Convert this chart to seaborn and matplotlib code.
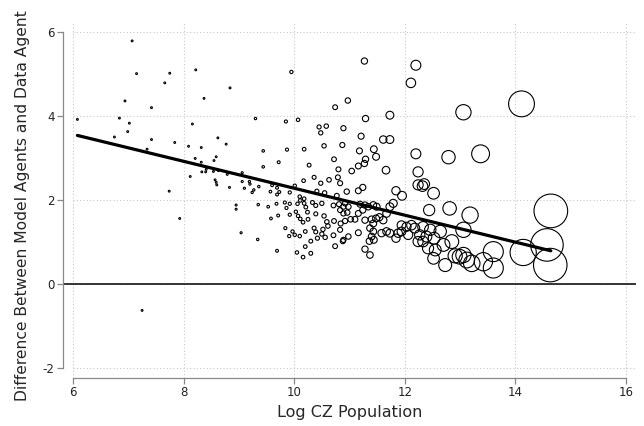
import numpy as np
import pandas as pd
import seaborn as sns
import matplotlib
matplotlib.use("Agg")
import matplotlib.pyplot as plt

# log CZ population (x) and difference between model and data agents (y)
log_pop = [
    6.08, 7.07, 7.15, 6.94, 7.42, 6.84, 7.02, 6.99, 6.75, 7.42, 7.34, 7.66, 7.75, 7.84, 7.74, 7.93, 7.25,
    8.22, 8.37, 8.16, 8.09, 8.32, 8.21, 8.32, 8.12, 8.33, 8.40, 8.41, 8.55, 8.59, 8.62, 8.77, 8.84, 8.54,
    8.63, 8.57, 8.59, 8.60, 8.79, 8.83, 8.95, 8.95, 9.04, 9.06, 9.06, 9.10, 9.19, 9.20, 9.27, 9.24, 9.36,
    9.35, 9.34, 9.30, 9.44, 9.44,
    9.95, 10.74, 9.85, 10.07, 10.45, 10.58, 10.48, 10.89, 9.87, 10.18, 10.54, 10.87, 10.72,
    9.72, 10.27, 10.36, 10.17, 10.48, 10.63, 10.79, 10.80, 9.60, 9.69, 9.73, 9.57, 9.69, 9.92, 10.01,
    10.10, 10.18, 10.41, 10.55, 10.77, 9.53, 9.68, 9.83, 9.92, 9.86, 10.06, 10.11, 10.18, 10.21, 10.33,
    10.39, 10.50, 10.71, 10.81, 10.89, 9.58, 9.71, 9.92, 10.03, 10.07, 10.11, 10.16, 10.24, 10.25, 10.39,
    10.54, 10.59, 10.72, 10.84, 10.52, 10.61, 10.50, 10.39, 10.20, 10.36, 9.84, 9.97, 9.91, 10.01, 10.10,
    10.30, 10.42, 10.56, 10.71, 10.88, 10.74, 10.20, 10.05, 10.30, 10.16, 9.69,
    11.27, 12.20, 12.11, 10.97, 11.73, 11.29, 11.21, 11.61, 11.73, 11.18, 11.44, 11.48, 11.29, 12.20,
    11.16, 11.04, 11.27, 11.66, 10.83, 10.95, 11.16, 11.24, 11.84, 11.95, 12.24, 12.24, 10.83, 10.92,
    10.98, 10.89, 10.96, 11.02, 10.92, 11.10, 11.16, 11.24, 11.28, 11.19, 11.34, 11.43, 11.49, 11.28,
    11.40, 11.48, 11.54, 11.61, 11.67, 11.73, 11.79, 11.43, 11.37, 11.43, 11.40, 11.36, 11.44, 11.58,
    11.67, 11.73, 11.84, 11.88, 11.94, 12.03, 12.12, 12.18, 11.94, 12.06, 12.24, 10.83, 10.89, 10.98,
    11.16, 11.28, 11.37,
    13.06, 12.79, 13.37,
    12.35, 12.32, 12.52, 12.44, 12.81, 13.18, 13.06, 12.33, 12.46, 12.64, 12.27, 12.39, 12.53, 12.85,
    12.33, 12.42, 12.55, 12.70, 12.52, 12.73, 12.91, 12.99, 13.06, 13.12, 13.21, 13.42, 13.60, 13.60,
    14.11, 14.64, 14.57, 14.63, 14.14,
]
agent_diff = [
    3.92, 5.79, 5.01, 4.36, 4.20, 3.95, 3.83, 3.63, 3.50, 3.44, 3.21, 4.79, 5.02, 3.37, 2.21, 1.56, -0.63,
    5.10, 4.42, 3.81, 3.28, 3.25, 2.99, 2.90, 2.56, 2.67, 2.67, 2.73, 2.94, 3.03, 3.48, 3.33, 4.67, 2.68,
    2.70, 2.48, 2.42, 2.36, 2.61, 2.30, 1.88, 1.78, 1.22, 2.65, 2.44, 2.28, 2.44, 2.38, 2.24, 2.18, 2.32,
    1.89, 1.06, 3.94, 3.17, 2.79,
    5.05, 4.21, 3.87, 3.91, 3.74, 3.76, 3.60, 3.71, 3.20, 3.21, 3.29, 3.31, 2.97,
    2.90, 2.83, 2.54, 2.46, 2.40, 2.48, 2.54, 2.73, 2.35, 2.29, 2.19, 2.20, 2.13, 2.18, 2.34,
    2.08, 2.03, 2.21, 2.17, 2.10, 1.84, 1.91, 1.94, 1.91, 1.81, 1.91, 1.99, 1.92, 1.83, 1.94,
    1.87, 1.92, 1.87, 1.90, 1.84, 1.56, 1.63, 1.65, 1.72, 1.62, 1.55, 1.47, 1.71, 1.54, 1.67,
    1.62, 1.48, 1.50, 1.44, 1.30, 1.38, 1.19, 1.24, 1.25, 1.33, 1.33, 1.25, 1.14, 1.17, 1.14,
    1.02, 1.09, 1.11, 1.16, 1.02, 0.90, 0.89, 0.75, 0.73, 0.64, 0.79,
    5.31, 5.21, 4.79, 4.37, 4.02, 3.94, 3.52, 3.44, 3.44, 3.17, 3.21, 3.03, 2.97, 3.10,
    2.81, 2.69, 2.87, 2.71, 2.40, 2.20, 2.22, 2.30, 2.22, 2.10, 2.36, 2.67, 1.76, 1.92,
    1.84, 1.68, 1.70, 1.54, 1.50, 1.54, 1.68, 1.76, 1.88, 1.90, 1.84, 1.88, 1.84, 1.52,
    1.54, 1.56, 1.59, 1.52, 1.68, 1.84, 1.92, 1.44, 1.33, 1.25, 1.13, 1.02, 1.05, 1.21,
    1.25, 1.21, 1.09, 1.21, 1.40, 1.36, 1.40, 1.33, 1.25, 1.17, 1.01, 1.29, 1.05, 1.13,
    1.22, 0.83, 0.69,
    4.09, 3.02, 3.10,
    2.38, 2.33, 2.16, 1.76, 1.80, 1.64, 1.29, 1.36, 1.29, 1.25, 1.17, 1.13, 1.09, 1.01,
    1.01, 0.85, 0.81, 0.93, 0.61, 0.45, 0.67, 0.65, 0.69, 0.57, 0.49, 0.53, 0.38, 0.77,
    4.29, 1.74, 0.93, 0.45, 0.75,
]

# weighted linear fit
fit_intercept = 5.49
fit_slope = -0.321

x_ticks = [6, 8, 10, 12, 14, 16]
y_ticks = [-2, 0, 2, 4, 6]

df = pd.DataFrame({"log_pop": log_pop, "diff": agent_diff})

sns.set_theme(style="white")
plt.rcParams["font.family"] = ["DejaVu Sans"]
plt.rcParams["axes.unicode_minus"] = False

fig = plt.figure(figsize=(6.44, 4.26), dpi=100)
ax = fig.add_axes([63 / 644, 48 / 426, 573 / 644, 356 / 426])

# marker area proportional to population (exp of log pop)
radius_px = np.maximum(16.5 * np.exp((df["log_pop"].to_numpy() - 14.6) / 2), 0.9)
sizes = (2 * radius_px * 0.72) ** 2

sns.scatterplot(data=df, x="log_pop", y="diff", s=sizes, ax=ax, legend=False, zorder=3)
pts = ax.collections[-1]
pts.set_facecolor("none")
pts.set_edgecolor("black")
pts.set_linewidth(0.8)

xs = np.array([df["log_pop"].min(), df["log_pop"].max()])
sns.lineplot(x=xs, y=fit_intercept + fit_slope * xs, color="black", linewidth=2.3, ax=ax, zorder=4)

ax.set_xlim(5.82, 16.18)
ax.set_ylim(-2.24, 6.24)

# stata style grid
for t in x_ticks:
    ax.axvline(t, color="#c8c8c8", linewidth=0.8, linestyle=(0, (1, 2)), zorder=1)
ax.hlines(y_ticks, 6, 16.18, color="#c8c8c8", linewidth=0.8, linestyle=(0, (1, 2)), zorder=1)
ax.axhline(0, color="black", linewidth=1.1, zorder=2)

ax.set_xticks(x_ticks)
ax.set_yticks(y_ticks)
for side in ["top", "right"]:
    ax.spines[side].set_visible(False)
ax.spines["left"].set_bounds(-2, 6)
ax.spines["bottom"].set_bounds(6, 16)
for side in ["left", "bottom"]:
    ax.spines[side].set_color("#888888")
    ax.spines[side].set_linewidth(0.9)
ax.tick_params(axis="both", length=4, width=0.9, color="#888888", labelsize=8.5,
               labelcolor="#222222", pad=2, left=True, bottom=True)

ax.set_xlabel("Log CZ Population", fontsize=11.5, labelpad=4)
ax.set_ylabel("Difference Between Model Agents and Data Agent", fontsize=11.2)
ax.yaxis.set_label_coords(-0.058, 0.485)

fig.savefig("out.png", dpi=100)
